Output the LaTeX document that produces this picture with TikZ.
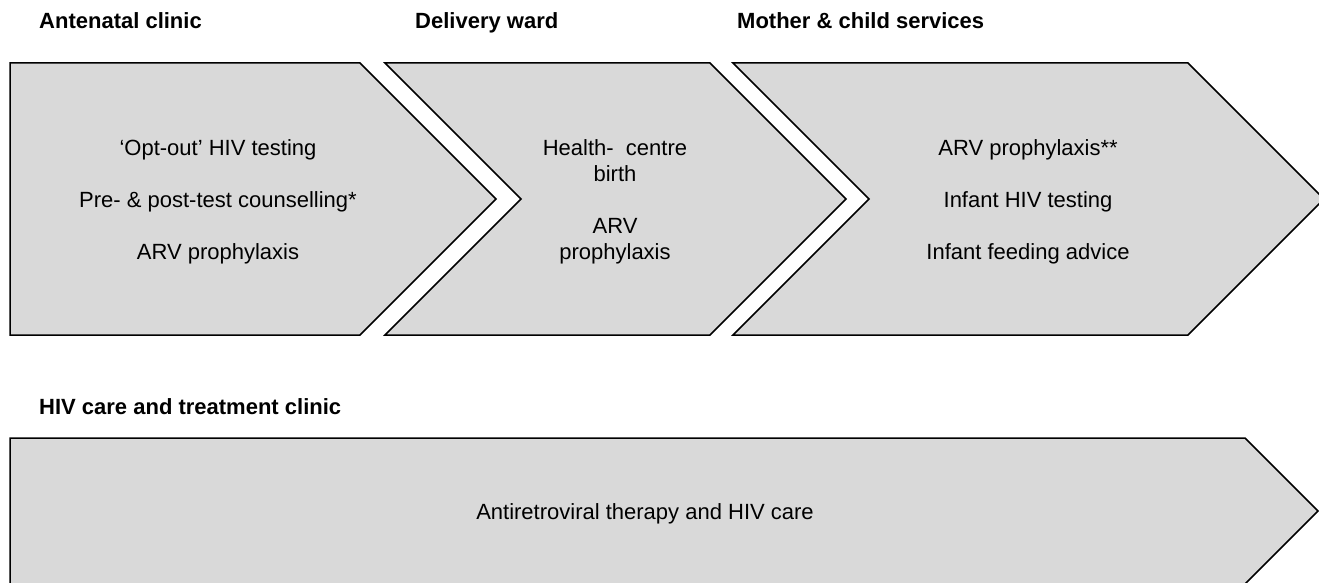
\documentclass[tikz,border=0pt]{standalone}
\usepackage{fontspec}
\setmainfont{Liberation Sans}
\definecolor{stagefill}{RGB}{217,217,217}
\usetikzlibrary{positioning}

\begin{document}
\begin{tikzpicture}[
        x=1pt, y=-1pt,
        stage/.style={draw=black, line width=1.5pt, fill=stagefill, line join=miter},
        heading/.style={anchor=base west, inner sep=0pt,
                        font=\fontsize{22}{26}\selectfont\bfseries},
        items/.style={align=center, inner sep=0pt,
                      font=\fontsize{22}{26}\selectfont}
    ]
        \useasboundingbox (0,0) rectangle (1319,583);
        \clip (0,0) rectangle (1319,583);

        % Stage headings
        \node[heading] (antenatal) at (39,29) {Antenatal clinic};
        \node[heading] (delivery) at (415,29) {Delivery ward};
        \node[heading] (mch) at (737,29) {Mother \& child services};
        \node[heading] (hivclinic) at (39,414) {HIV care and treatment clinic};

        % Chevrons
        \draw[stage] (10,63) -- (360,63) -- (496,199) -- (360,335) -- (10,335) -- cycle;
        \draw[stage] (385,63) -- (710,63) -- (846,199) -- (710,335) -- (385,335)
            -- (521,199) -- cycle;
        \draw[stage] (733,63) -- (1188,63) -- (1324,199) -- (1188,335) -- (733,335)
            -- (869,199) -- cycle;
        \draw[stage] (10,438) -- (1245,438) -- (1318,511) -- (1245,584) -- (10,584) -- cycle;

        % Services at each stage
        \node[items] (anc) at (218,202)
            {`Opt-out' HIV testing\\[26pt]
             Pre- \& post-test counselling*\\[26pt]
             ARV prophylaxis};
        \node[items] (ward) at (615,202)
            {Health-\ \ centre\\birth\\[26pt]
             ARV\\prophylaxis};
        \node[items] (services) at (1028,202)
            {ARV prophylaxis**\\[26pt]
             Infant HIV testing\\[26pt]
             Infant feeding advice};
        \node[items] (art) at (645,514) {Antiretroviral therapy and HIV care};
    \end{tikzpicture}
\end{document}
